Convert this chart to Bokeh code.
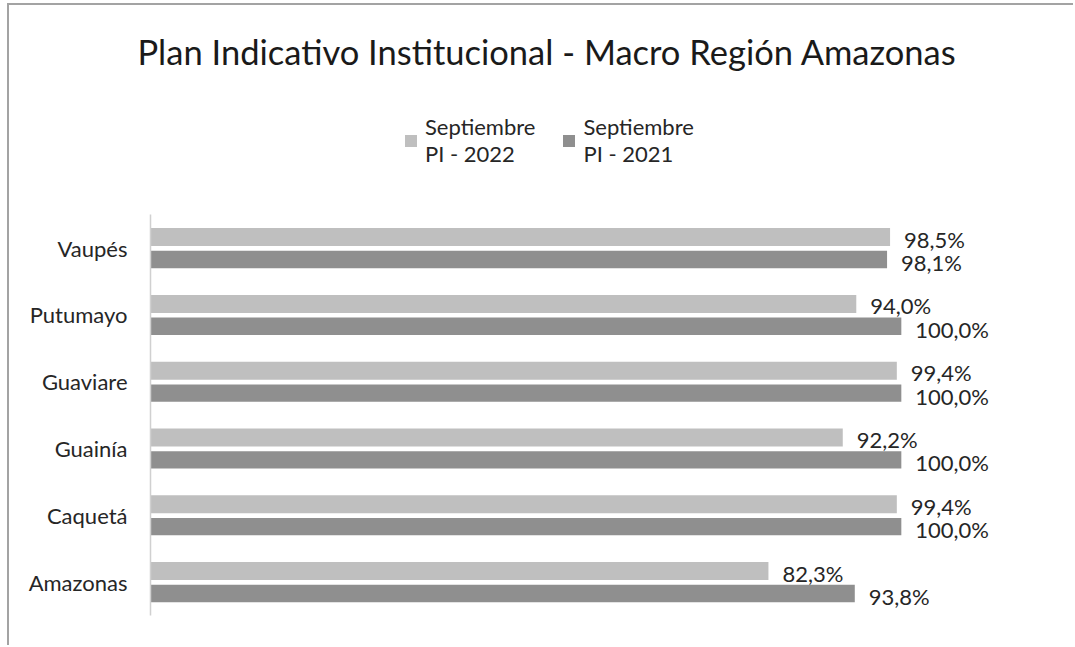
from bokeh.plotting import figure
from bokeh.models import (ColumnDataSource, Range1d, Legend, LegendItem, Title, FixedTicker)
from bokeh.transform import dodge
from bokeh.core.properties import value
from bokeh.embed import file_html
from bokeh.resources import INLINE

# ---- data ----
regions = ["Amazonas", "Caquetá", "Guainía", "Guaviare", "Putumayo", "Vaupés"]
pi_2022 = [82.3, 99.4, 92.2, 99.4, 94.0, 98.5]
pi_2021 = [93.8, 100.0, 100.0, 100.0, 100.0, 98.1]
series_labels = ["Septiembre\nPI - 2022", "Septiembre\nPI - 2021"]
title_text = "Plan Indicativo Institucional - Macro Región Amazonas"


def fmt(v):
    return f"{v:.1f}%".replace(".", ",")


ypos = list(range(len(regions)))
src = ColumnDataSource(dict(
    region=regions,
    ypos=ypos,
    v22=pi_2022,
    v21=pi_2021,
    l22=[fmt(v) for v in pi_2022],
    l21=[fmt(v) for v in pi_2021],
))

FONT = "Lato"
TXT = "#262626"

# frame: ~400 px for the 6 categories, extra headroom above for the legend
p = figure(
    width=1066, height=642,
    y_range=Range1d(-0.5, 7.24), x_range=Range1d(0, 120),
    output_backend="svg", toolbar_location=None, title=None,
    min_border_left=141, min_border_right=24, min_border_top=93, min_border_bottom=32,
    styles={"margin-left": "7px", "margin-top": "3px",
            "border-left": "2px solid #a3a3a3", "border-top": "2px solid #a3a3a3"},
)
p.outline_line_color = None
p.xgrid.grid_line_color = None
p.ygrid.grid_line_color = None
p.xaxis.visible = False
p.background_fill_color = "white"
p.border_fill_color = "white"

ax = p.yaxis[0]
ax.ticker = FixedTicker(ticks=ypos)
ax.major_label_overrides = {i: r for i, r in zip(ypos, regions)}
ax.bounds = (-0.5, len(regions) - 0.5)
ax.major_tick_line_color = None
ax.minor_tick_line_color = None
ax.major_tick_out = 0
ax.major_tick_in = 0
ax.axis_line_color = "#d0d0d0"
ax.axis_line_width = 1.5
ax.major_label_text_font = FONT
ax.major_label_text_font_size = "22px"
ax.major_label_text_color = TXT
ax.major_label_standoff = 23

r22 = p.hbar(y=dodge("ypos", 0.165), left=0, right="v22", height=0.27,
             fill_color="#bfbfbf", line_color=None, source=src)
r21 = p.hbar(y=dodge("ypos", -0.17), left=0, right="v21", height=0.26,
             fill_color="#8f8f8f", line_color=None, source=src)

p.text(x="v22", y=dodge("ypos", 0.165), text="l22", source=src,
       x_offset=14, y_offset=2, text_align="left", text_baseline="middle",
       text_font=value(FONT), text_font_size="22px", text_color=TXT)
p.text(x="v21", y=dodge("ypos", -0.17), text="l21", source=src,
       x_offset=14, y_offset=3, text_align="left", text_baseline="middle",
       text_font=value(FONT), text_font_size="22px", text_color=TXT)

legend = Legend(
    items=[LegendItem(label=series_labels[0], renderers=[r22]),
           LegendItem(label=series_labels[1], renderers=[r21])],
    orientation="horizontal", location=(253, 448),
    border_line_color=None, background_fill_alpha=0, margin=0, padding=0,
    spacing=26, glyph_width=15, glyph_height=15, label_standoff=7,
    label_text_font=FONT, label_text_font_size="22px", label_text_color=TXT,
    label_text_line_height=1.5, label_text_baseline="top",
)
p.add_layout(legend, "center")

title = Title(text=title_text, align="left", offset=-13, standoff=50,
              vertical_align="top",
              text_font=FONT, text_font_size="34.5px", text_font_style="normal",
              text_color="#1a1a1a")
p.add_layout(title, "above")

open("out.html", "w").write(file_html(p, INLINE))
